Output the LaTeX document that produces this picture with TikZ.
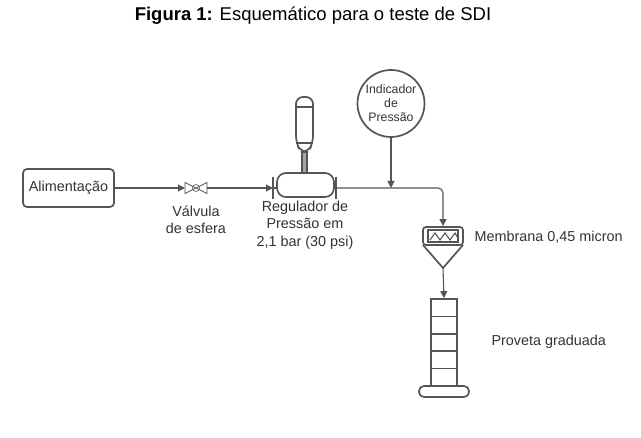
\documentclass[tikz,border=0pt]{standalone}
\usepackage{fontspec}
\setmainfont{Liberation Sans}
\usetikzlibrary{arrows.meta,calc}
\definecolor{line}{HTML}{555555}
\definecolor{stem}{HTML}{A6A6A6}
\definecolor{ink}{HTML}{333333}
\tikzset{
  pipe/.style={draw=line, line width=1.1pt},
  flow/.style={pipe, -{Triangle[length=7pt,width=7pt]}},
  unit/.style={draw=line, line width=1.7pt},
  lab/.style={text=ink, font=\fontsize{14.4}{17.5}\selectfont, align=center},
  labs/.style={text=ink, font=\fontsize{12.3}{14}\selectfont, align=center, inner sep=0pt}
}
\begin{document}
\begin{tikzpicture}[x=1pt,y=-1pt]
  \useasboundingbox (0,0) rectangle (641,438);
  \node[font=\fontsize{18.5}{21}\selectfont] (title) at (313,16) {\textbf{Figura 1:} Esquemático para o teste de SDI};

  % feed and valve
  \node[unit, rounded corners=4pt, minimum width=91pt, minimum height=38pt, inner sep=0pt, lab] (alim) at (68.5,188) {Alimentação};
  \coordinate (valve) at (185,188);
  \coordinate (valveE) at (207,188);
  \draw[pipe, line width=0.8pt] (185,182.5) -- (207,193.5) -- (207,182.5) -- (185,193.5) -- cycle;
  \draw[pipe, line width=0.6pt] (196,188) circle (3.5pt);
  \node[lab] (valvelab) at (196,220) {Válvula\\de esfera};

  % regulator
  \coordinate (regW) at (273,188);
  \coordinate (regE) at (336,188);
  \draw[unit, rounded corners=9pt] (277,173) rectangle (334,197);
  \draw[unit] (273,177) -- (273,199) (336,177) -- (336,199);
  \draw[unit] (273,188) -- (277,188) (334,188) -- (336,188);
  \draw[unit, fill=stem] (302,152) rectangle (307,173);
  \draw[unit, rounded corners=7pt] (296,143) -- (296,97) -- (313,97) -- (313,143) -- (308,152) -- (301,152) -- cycle;
  \draw[unit] (296,107) -- (313,107) (296,143) -- (313,143);
  \node[lab] (reglab) at (305,225) {Regulador de\\Pressão em\\2,1 bar (30 psi)};

  % pressure indicator
  \node[unit, circle, minimum size=67pt, inner sep=0pt, labs] (ind) at (391,103.5) {Indicador\\de\\Pressão};
  \coordinate (tee) at (391,188);

  % membrane
  \node[unit, rounded corners=3pt, minimum width=40pt, minimum height=18pt, inner sep=0pt] (memb) at (443,236) {};
  \draw[pipe] (428,230) rectangle (458,242);
  \draw[pipe] (430,240) -- (435,233) -- (440,240) -- (445,233) -- (450,240) -- (455,233) -- (458,238);
  \draw[unit, line join=round] (423,245) -- (443,268) -- (463,245);
  \coordinate (funnel) at (443,268);
  \node[lab, anchor=west] (memblab) at (471,237) {Membrana 0,45 micron};

  % graduated cylinder
  \node[unit, minimum width=26pt, minimum height=87pt, inner sep=0pt] (prov) at (444,342.5) {};
  \foreach \y in {316.4,333.8,351.2,368.6}
    \draw[unit] (431,\y) -- (457,\y);
  \draw[unit, rounded corners=5pt] (419,386) rectangle (469,397);
  \node[lab, anchor=west] (provlab) at (488,342) {Proveta graduada};

  % connectors
  \draw[flow] (alim.east) -- (valve);
  \draw[flow] (valveE) -- (regW);
  \draw[pipe, rounded corners=5pt, -{Triangle[length=7pt,width=7pt]}] (regE) -- (443,188) -- (memb.north);
  \draw[flow] (ind.south) -- (tee);
  \draw[flow] (funnel) -- (prov.north);
\end{tikzpicture}
\end{document}
